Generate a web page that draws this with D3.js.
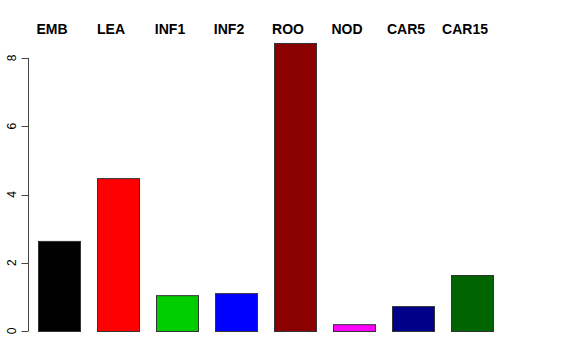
<!DOCTYPE html>
<html>
<head>
<meta charset="utf-8">
<script src="https://cdn.jsdelivr.net/npm/d3@7"></script>
<style>
  body { margin: 0; background: #fff; }
  svg { display: block; font-family: "Liberation Sans", Arial, sans-serif; }
</style>
</head>
<body>
<div id="chart"></div>
<script>
const CATEGORIES = ["EMB", "LEA", "INF1", "INF2", "ROO", "NOD", "CAR5", "CAR15"];
const VALUES = [2.64, 4.48, 1.05, 1.11, 8.44, 0.2, 0.73, 1.64];
const BAR_COLORS = ["#000000", "#ff0000", "#00cd00", "#0000ff", "#8b0000", "#ff00ff", "#00008b", "#006400"];
const Y_TICKS = [0, 2, 4, 6, 8];

const WIDTH = 576, HEIGHT = 360;

const svg = d3.select("#chart")
    .append("svg")
        .attr("width", WIDTH)
        .attr("height", HEIGHT);

// bar positions, gap between bars is about 17px of a 59px step
const x = d3.scaleBand()
    .domain(CATEGORIES)
    .range([29.5, 501.5])
    .paddingInner(17 / 59)
    .paddingOuter(17 / 118);

const y = d3.scaleLinear()
    .domain([0, 8])
    .range([331, 58]);

// bars
svg.selectAll("rect.bar")
    .data(CATEGORIES)
    .enter()
    .append("rect")
        .attr("class", "bar")
        .attr("x", d => x(d) + 0.5)
        .attr("y", (d, i) => y(VALUES[i]) + 0.5)
        .attr("width", x.bandwidth())
        .attr("height", (d, i) => y(0) - y(VALUES[i]))
        .style("fill", (d, i) => BAR_COLORS[i])
        .style("stroke", "#333")
        .style("stroke-width", 1);

// left axis, R style (tick labels turned to read upward)
const axis = svg.append("g")
    .attr("transform", "translate(28.5,0)");

axis.append("line")
    .attr("y1", y(0))
    .attr("y2", y(8))
    .style("stroke", "#444");

axis.selectAll("line.tick")
    .data(Y_TICKS)
    .enter()
    .append("line")
        .attr("class", "tick")
        .attr("x1", -7)
        .attr("x2", 0)
        .attr("y1", d => Math.round(y(d)) + 0.5)
        .attr("y2", d => Math.round(y(d)) + 0.5)
        .style("stroke", "#444");

axis.selectAll("text")
    .data(Y_TICKS)
    .enter()
    .append("text")
        .attr("transform", d => "translate(-13," + y(d) + ") rotate(-90)")
        .attr("text-anchor", "middle")
        .style("font-size", "12px")
        .text(d => d);

// category labels along the top
svg.selectAll("text.cat")
    .data(CATEGORIES)
    .enter()
    .append("text")
        .attr("class", "cat")
        .attr("x", d => x(d) + x.bandwidth() / 2 - 7)
        .attr("y", 34)
        .attr("text-anchor", "middle")
        .style("font-size", "14px")
        .style("font-weight", "bold")
        .text(d => d);
</script>
</body>
</html>
